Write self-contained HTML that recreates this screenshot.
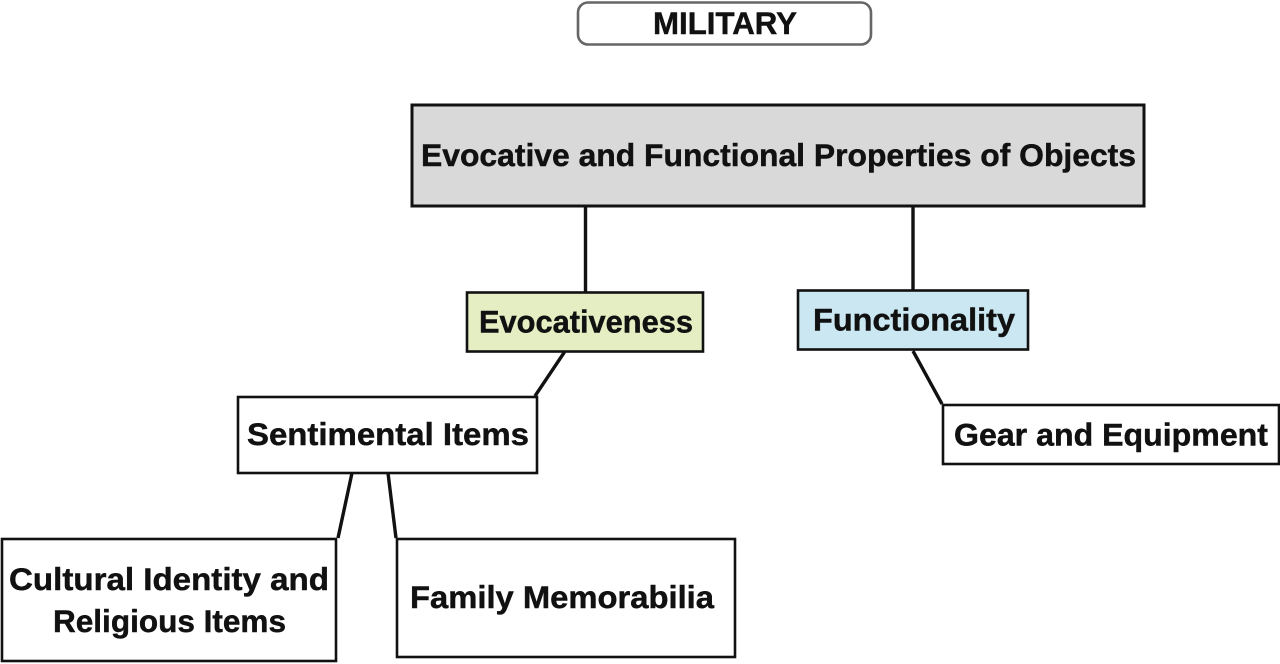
<!DOCTYPE html>
<html>
<head>
<meta charset="utf-8">
<style>
html,body{margin:0;padding:0;background:#fff;width:1280px;height:664px;overflow:hidden}
svg{display:block}
text{font-family:"Liberation Sans",sans-serif;font-weight:700;font-size:31.5px;fill:#111;stroke:#111;stroke-width:.45px}
rect{stroke:#111;stroke-width:2.6}
line{stroke:#111;stroke-width:3.4}
</style>
</head>
<body>
<svg width="1280" height="664" viewBox="0 0 1280 664" xmlns="http://www.w3.org/2000/svg">
<line x1="585.5" y1="206" x2="585.5" y2="292"/>
<line x1="913" y1="206" x2="913" y2="290"/>
<line x1="564.5" y1="352" x2="535" y2="396"/>
<line x1="913" y1="351" x2="942" y2="404"/>
<line x1="352" y1="473" x2="338" y2="538"/>
<line x1="388" y1="473" x2="396" y2="538"/>

<rect x="578" y="2.5" width="293" height="42" rx="10" ry="10" fill="#fff" style="stroke:#666"/>
<rect x="412" y="105" width="732" height="101" fill="#d9d9d9" style="stroke-width:3"/>
<rect x="467" y="292.5" width="236" height="59" fill="#e5eec3"/>
<rect x="798" y="290.5" width="230" height="59" fill="#cbe8f2"/>
<rect x="238" y="397" width="299" height="76" fill="#fff"/>
<rect x="943" y="405" width="336" height="59" fill="#fff"/>
<rect x="2" y="539" width="334" height="122" fill="#fff"/>
<rect x="397" y="539" width="338" height="118" fill="#fff"/>

<text x="653" y="34" textLength="144" lengthAdjust="spacingAndGlyphs">MILITARY</text>
<text x="421" y="166" textLength="715" lengthAdjust="spacingAndGlyphs">Evocative and Functional Properties of Objects</text>
<text x="479" y="332.5" textLength="214" lengthAdjust="spacingAndGlyphs">Evocativeness</text>
<text x="813" y="330.5" textLength="202" lengthAdjust="spacingAndGlyphs">Functionality</text>
<text x="247" y="445" textLength="282" lengthAdjust="spacingAndGlyphs">Sentimental Items</text>
<text x="954" y="445.5" textLength="314" lengthAdjust="spacingAndGlyphs">Gear and Equipment</text>
<text x="9" y="590" textLength="320" lengthAdjust="spacingAndGlyphs">Cultural Identity and</text>
<text x="53" y="632" textLength="233" lengthAdjust="spacingAndGlyphs">Religious Items</text>
<text x="410" y="608" textLength="304" lengthAdjust="spacingAndGlyphs">Family Memorabilia</text>
</svg>
</body>
</html>
